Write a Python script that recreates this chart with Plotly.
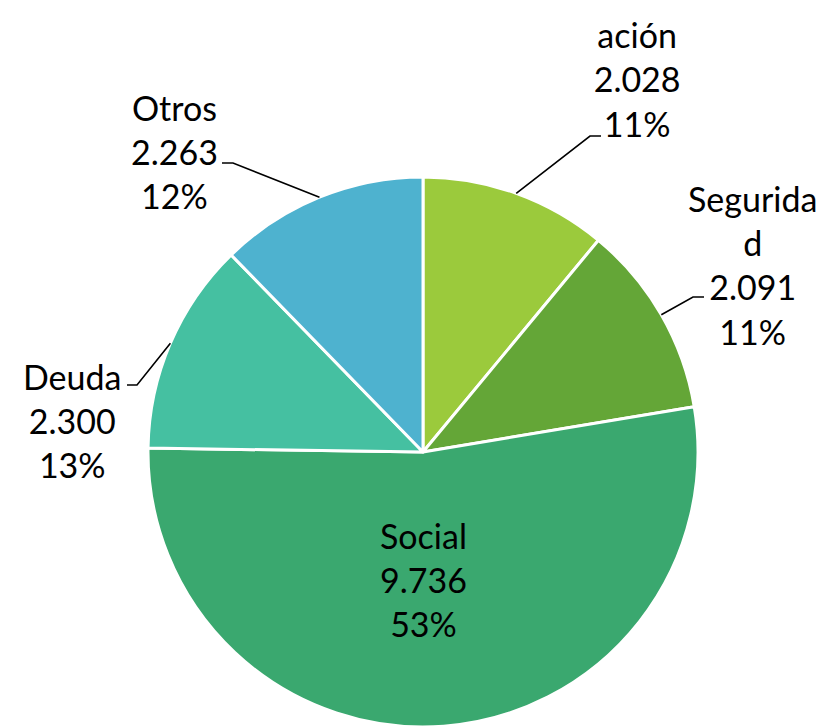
import math
import plotly.graph_objects as go

# ---- data ----
labels = ["Administr<br>ación", "Segurida<br>d", "Social", "Deuda", "Otros"]
values = [2028, 2091, 9736, 2300, 2263]
percent_labels = ["11%", "11%", "53%", "13%", "12%"]
colors = ["#9BCA3C", "#64A637", "#3AA86F", "#45C0A1", "#4EB2CF"]

W, H = 840, 728
OFF = 8  # page body margin: figure is drawn 8px right/down in the window
CX, CY, R = 423, 452, 275

def px(x):
    return (x - OFF) / W

def py(y):
    return 1 - (y - OFF) / H

def fmt(v):
    return f"{v:,}".replace(",", ".")

fig = go.Figure(go.Pie(
    labels=labels,
    values=values,
    sort=False,
    direction="clockwise",
    rotation=0,
    marker=dict(colors=colors, line=dict(color="white", width=3)),
    textinfo="none",
    hoverinfo="skip",
    domain=dict(x=[px(CX - R), px(CX + R)], y=[py(CY + R), py(CY - R)]),
))

# label centres and leader elbows (layout positions, window pixels)
label_pos = [(637, 57), (752, 265), (423, 579), (72, 420), (174, 152)]
elbows = [((590, 136), (601, 136)), ((693, 297), (704, 297)), None,
          ((137, 385), (127, 385)), ((233, 163), (222, 163))]

total = sum(values)
cum = 0
FONT = "Lato, Carlito, Calibri, sans-serif"
for i, v in enumerate(values):
    mid = (cum + v / 2) / total * 2 * math.pi
    cum += v
    text = f"{labels[i]}<br>{fmt(v)}<br>{percent_labels[i]}"
    lx, ly = label_pos[i]
    fig.add_annotation(x=px(lx), y=py(ly), xref="paper", yref="paper",
                       text=text, showarrow=False, xanchor="center", yanchor="middle",
                       align="center", font=dict(family=FONT, size=34, color="black"))
    if elbows[i] is not None:
        sx = CX + R * math.sin(mid)
        sy = CY - R * math.cos(mid)
        (ex, ey), (hx, hy) = elbows[i]
        path = f"M {px(sx)},{py(sy)} L {px(ex)},{py(ey)} L {px(hx)},{py(hy)}"
        fig.add_shape(type="path", path=path, xref="paper", yref="paper",
                      line=dict(color="black", width=1.6))

fig.update_layout(width=W, height=H, margin=dict(l=0, r=0, t=0, b=0),
                  showlegend=False, paper_bgcolor="white", plot_bgcolor="white")

fig.write_html("out.html")
